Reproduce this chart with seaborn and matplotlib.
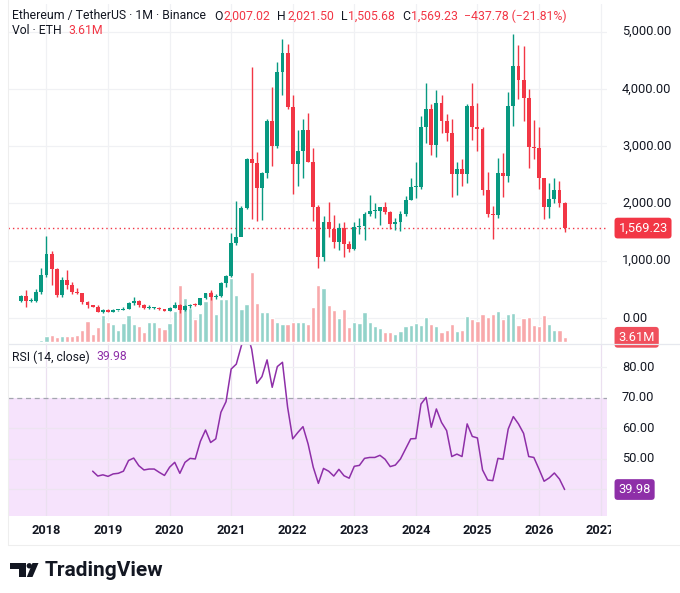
import matplotlib
matplotlib.use('Agg')
import matplotlib.pyplot as plt
import matplotlib.transforms as mtransforms
from matplotlib.patches import Polygon, Ellipse
import numpy as np
import pandas as pd
import seaborn as sns

# monthly ETH/USDT candles, Aug 2017 .. Jun 2026
months = pd.period_range('2017-08', '2026-06', freq='M')
opens = [301.1, 383.6, 301.5, 305.1, 446.8,
         756.1, 1118.3, 855.3, 396.6, 669.4, 577.7, 454.7, 433.9, 281.6, 232.1, 197.2, 113.3,
         133.4, 106.8, 136.0, 141.1, 160.6, 268.1, 290.3, 218.3, 172.2, 180.2, 182.5, 151.4,
         129.2, 179.2, 226.8, 133.6, 206.6, 231.0, 225.8, 345.4, 434.9, 359.8, 386.4, 616.4,
         736.4, 1312.5, 1417.1, 1918.0, 2773.0, 2707.0, 2274.0, 2536.0, 3433.0, 3001.0, 4288.0, 4631.0,
         3676.0, 2688.0, 2919.0, 3281.0, 2727.0, 1941.0, 1070.0, 1679.0, 1553.0, 1328.0, 1572.0, 1295.0,
         1196.0, 1585.0, 1605.0, 1821.0, 1868.0, 1873.0, 1934.0, 1856.0, 1645.0, 1671.0, 1814.0, 2052.0,
         2281.0, 2283.0, 3340.0, 3647.0, 3015.0, 3760.0, 3433.0, 3232.0, 2513.0, 2602.0, 2518.0, 3704.0,
         3332.0, 3300.0, 2237.0, 1822.0, 1794.0, 2528.0, 2486.0, 3697.0, 4391.0, 4145.0, 3848.0, 2990.0,
         2967.0, 2440.0, 1943.0, 2071.0, 2234.0, 2007.02]
highs = [393.0, 488.8, 349.7, 513.0, 880.0,
         1424.0, 1161.0, 880.0, 710.0, 838.0, 625.0, 515.0, 436.0, 304.0, 235.0, 223.0, 159.0,
         160.0, 165.0, 146.0, 185.0, 288.0, 362.0, 316.0, 239.0, 223.0, 198.0, 194.0, 153.0,
         185.0, 288.0, 253.0, 227.0, 245.0, 254.0, 348.0, 445.0, 488.0, 416.0, 622.0, 756.0,
         1476.0, 2041.0, 1947.0, 2798.0, 4372.0, 2891.0, 2551.0, 3466.0, 4028.0, 4460.0, 4868.0, 4778.0,
         3900.0, 3282.0, 3479.0, 3580.0, 2965.0, 1972.0, 1785.0, 2030.0, 1790.0, 1665.0, 1680.0, 1352.0,
         1678.0, 1743.0, 1857.0, 2141.0, 2009.0, 1929.0, 2029.0, 1870.0, 1751.0, 1866.0, 2135.0, 2445.0,
         2717.0, 3522.0, 4093.0, 3730.0, 3977.0, 3887.0, 3563.0, 3477.0, 2728.0, 2769.0, 3740.0, 4107.0,
         3744.0, 3340.0, 2550.0, 1957.0, 2788.0, 2880.0, 3940.0, 4956.0, 4770.0, 4755.0, 3990.0, 3447.0,
         3340.0, 2450.0, 2350.0, 2438.0, 2396.0, 2021.5]
lows = [278.0, 197.0, 284.5, 285.0, 420.0,
        715.0, 570.0, 368.0, 365.0, 500.0, 413.0, 423.0, 251.0, 167.0, 185.0, 102.0, 82.0,
        100.0, 101.0, 125.0, 137.0, 158.0, 230.0, 190.0, 162.0, 152.0, 156.0, 138.0, 117.0,
        126.0, 176.0, 86.0, 125.0, 176.0, 216.0, 221.0, 340.0, 308.0, 332.0, 373.0, 534.0,
        714.0, 1273.0, 1433.0, 1898.0, 1735.0, 1700.0, 1719.0, 2450.0, 2652.0, 2970.0, 3900.0, 3643.0,
        2159.0, 2300.0, 2450.0, 2717.0, 1700.0, 881.0, 1000.0, 1422.0, 1220.0, 1190.0, 1073.0, 1150.0,
        1190.0, 1461.0, 1368.0, 1785.0, 1740.0, 1626.0, 1815.0, 1550.0, 1531.0, 1521.0, 1781.0, 2052.0,
        2100.0, 2243.0, 3056.0, 2852.0, 2817.0, 3233.0, 3086.0, 2111.0, 2150.0, 2310.0, 2357.0, 3100.0,
        2920.0, 2150.0, 1754.0, 1385.0, 1750.0, 2111.0, 2373.0, 3354.0, 3815.0, 3435.0, 2623.0, 2776.0,
        2250.0, 1722.0, 1740.0, 2000.0, 1943.0, 1505.68]
closes = [383.6, 301.5, 305.1, 446.8, 756.1,
          1118.3, 855.3, 396.6, 669.4, 577.7, 454.7, 433.9, 281.6, 232.1, 197.2, 113.3, 133.4,
          106.8, 136.0, 141.1, 160.6, 268.1, 290.3, 218.3, 172.2, 180.2, 182.5, 151.4, 129.2,
          179.2, 226.8, 133.6, 206.6, 231.0, 225.8, 345.4, 434.9, 359.8, 386.4, 616.4, 736.4,
          1312.5, 1417.1, 1918.0, 2773.0, 2707.0, 2274.0, 2536.0, 3433.0, 3001.0, 4288.0, 4631.0, 3676.0,
          2688.0, 2919.0, 3281.0, 2727.0, 1941.0, 1070.0, 1679.0, 1553.0, 1328.0, 1572.0, 1295.0, 1196.0,
          1585.0, 1605.0, 1821.0, 1868.0, 1873.0, 1934.0, 1856.0, 1645.0, 1671.0, 1814.0, 2052.0, 2281.0,
          2283.0, 3340.0, 3647.0, 3015.0, 3760.0, 3433.0, 3232.0, 2513.0, 2602.0, 2518.0, 3704.0, 3332.0,
          3300.0, 2237.0, 1822.0, 1794.0, 2528.0, 2486.0, 3697.0, 4391.0, 4145.0, 3848.0, 2990.0, 2967.0,
          2440.0, 1943.0, 2071.0, 2234.0, 2007.0, 1569.23]
# volume, million ETH
volume = [0.5, 0.5, 0.7, 1.0, 1.7,
          4.8, 5.0, 3.6, 4.6, 4.8, 4.3, 5.3, 9.1, 15.6, 6.3, 10.8, 19.5,
          14.7, 13.2, 9.1, 13.7, 20.0, 13.0, 12.0, 7.2, 14.4, 14.4, 10.8, 9.6,
          13.7, 22.4, 41.6, 31.8, 25.0, 16.8, 21.4, 29.6, 36.8, 20.2, 31.5, 31.0,
          46.7, 34.0, 24.0, 27.7, 50.5, 28.6, 21.7, 21.9, 17.8, 14.7, 13.2, 13.5,
          14.7, 14.7, 14.7, 13.5, 25.5, 41.6, 39.5, 27.0, 23.1, 17.3, 23.8, 10.8,
          14.4, 13.7, 21.7, 14.9, 11.8, 10.1, 7.5, 7.7, 6.3, 8.4, 11.6, 12.3,
          13.7, 12.8, 18.0, 13.5, 11.8, 7.7, 9.1, 13.0, 8.2, 9.1, 18.8, 17.1,
          15.2, 20.7, 18.3, 20.7, 22.4, 16.8, 20.5, 21.4, 12.3, 17.8, 18.3, 12.5,
          11.6, 20.0, 13.2, 8.9, 8.7, 3.61]
# RSI(14, close), starting Oct 2018
rsi_start = pd.Period('2018-10', freq='M')
rsi = [46.0, 44.4, 44.8,
       44.3, 45.1, 45.3, 46.0, 49.5, 50.3, 47.8, 46.4, 46.7, 46.7, 45.6, 44.6,
       47.3, 48.9, 45.3, 48.9, 50.2, 50.0, 55.8, 59.5, 55.4, 56.6, 65.3, 68.8,
       79.5, 81.1, 87.2, 92.0, 86.0, 74.8, 77.0, 82.5, 73.5, 80.3, 81.7, 67.0,
       56.6, 58.7, 60.6, 54.9, 47.3, 42.0, 46.9, 46.0, 44.4, 46.6, 44.5, 43.7,
       47.6, 47.9, 50.2, 50.5, 50.5, 51.2, 49.9, 47.5, 48.0, 50.0, 53.3, 56.6,
       56.7, 68.0, 70.2, 60.4, 66.4, 62.0, 59.3, 50.8, 51.6, 50.8, 61.5, 57.4,
       56.9, 46.4, 43.1, 42.9, 50.2, 49.9, 59.8, 63.9, 61.5, 58.4, 50.8, 50.5,
       46.7, 42.7, 43.8, 45.4, 43.4, 39.98]
years = list(range(2018, 2028))

GREEN, RED = '#089981', '#f23645'
VUP, VDN = '#93d3ca', '#f8a9ab'
PURPLE, LAV = '#8e2fa8', '#f6e3fc'
TXT, GRID = '#131722', '#f0f1f4'

def month_index(p):
    return (p.year - 2018) * 12 + p.month - 1

m = np.array([month_index(p) for p in months])
o, h, l, c = map(np.array, (opens, highs, lows, closes))
up = c >= o
cols = np.where(up, GREEN, RED)
rsi_m = month_index(rsi_start) + np.arange(len(rsi))
year_m = [(y - 2018) * 12 for y in years]

sns.set_theme(style='white')
plt.rcParams['font.family'] = ['Roboto', 'DejaVu Sans']

W, H = 680, 593
fig = plt.figure(figsize=(W / 100, H / 100), dpi=100)
fig.patch.set_facecolor('white')

def box(lf, tp, rt, bt):
    return [lf / W, 1 - bt / H, (rt - lf) / W, (bt - tp) / H]

axv = fig.add_axes(box(8, 4, 607, 344))
ax = axv.twinx()
ax_r = fig.add_axes(box(8, 344, 607, 516))
# time strip is a bit wider so the last year label is cut like in the app
ax_t = fig.add_axes(box(8, 516, 611, 545))

XL = (-7.5, 109.26)
for a in (axv, ax, ax_r):
    a.set_xlim(*XL)
for a in (axv, ax, ax_r, ax_t):
    for s in a.spines.values():
        s.set_visible(False)
    a.set_xticks([])
    a.set_yticks([])
    a.patch.set_visible(False)
ax_t.set_xlim(XL[0], XL[0] + (XL[1] - XL[0]) * (611 - 8) / 599)
ax.set_ylim(-453.7, 5480)
axv.set_ylim(-1.23, 244.3)
ax_r.set_ylim(31.3, 87.7)

# grid
gridtr = mtransforms.blended_transform_factory(axv.transAxes, ax.transData)
for p in range(0, 6000, 1000):
    axv.plot([0, 1], [p, p], color=GRID, lw=0.9, transform=gridtr, zorder=0)
for ym in year_m:
    axv.axvline(ym, color=GRID, lw=0.9, zorder=0)
    ax_r.axvline(ym, color='#ebe0f0', lw=0.9, zorder=1)

# volume
vol_df = pd.DataFrame({'m': m, 'vol': volume, 'dir': np.where(up, 'up', 'down')})
sns.barplot(data=vol_df, x='m', y='vol', hue='dir', palette={'up': VUP, 'down': VDN},
            native_scale=True, dodge=False, width=0.82, saturation=1, errorbar=None,
            legend=False, ax=axv, zorder=2)
axv.set_xlim(*XL)
axv.set_ylim(-1.23, 244.3)
axv.set_xlabel('')
axv.set_ylabel('')
axv.set_xticks([])
axv.set_yticks([])

# candles
ax.vlines(m, l, h, colors=cols, lw=1.0, zorder=3)
ax.bar(m, np.maximum(np.abs(c - o), 14), bottom=np.minimum(o, c), width=0.76,
       color=cols, linewidth=0, zorder=4)
ax.axhline(closes[-1], color=RED, lw=1.0, ls=(0, (1, 2.2)), zorder=2)

# RSI
ax_r.axhspan(30, 70, color=LAV, lw=0, zorder=0)
for r in (80, 60, 50, 40):
    ax_r.axhline(r, color='#ede4f1' if r < 70 else GRID, lw=0.9, zorder=1)
ax_r.axhline(70, color='#a3a6af', lw=0.9, ls=(0, (4, 3)), zorder=2)
sns.lineplot(x=rsi_m, y=rsi, color=PURPLE, lw=1.1, ax=ax_r, zorder=3)
ax_r.set_xlim(*XL)
ax_r.set_ylim(31.3, 87.7)
ax_r.set_xticks([])
ax_r.set_yticks([])

# time axis
ttr = mtransforms.blended_transform_factory(ax_t.transData, ax_t.transAxes)
for ym, y in zip(year_m, years):
    ax_t.text(ym, 0.5, str(y), transform=ttr, ha='center', va='center', fontsize=9.2,
              fontweight='bold', color=TXT, clip_on=True)

# price scale
xa = (622 - 8) / 599
trm = mtransforms.blended_transform_factory(ax.transAxes, ax.transData)
for p in range(0, 6000, 1000):
    ax.text(xa, p, f'{p:,.2f}', transform=trm, ha='left', va='center', fontsize=9.3, color=TXT)
ax.text(xa - 0.006, closes[-1], f'{closes[-1]:,.2f}', transform=trm, ha='left', va='center',
        fontsize=9.3, color='white',
        bbox=dict(boxstyle='round,pad=0.3,rounding_size=0.25', fc=RED, ec='none'))
trv = mtransforms.blended_transform_factory(axv.transAxes, axv.transData)
axv.text(xa - 0.006, volume[-1], f'{volume[-1]:.2f}M', transform=trv, ha='left', va='center',
         fontsize=9.3, color='white',
         bbox=dict(boxstyle='round,pad=0.3,rounding_size=0.25', fc='#f04f5c', ec='none'))
trr = mtransforms.blended_transform_factory(ax_r.transAxes, ax_r.transData)
for r in (80, 70, 60, 50):
    ax_r.text(xa, r, f'{r:.2f}', transform=trr, ha='left', va='center', fontsize=9.3, color=TXT)
ax_r.text(xa - 0.006, rsi[-1], f'{rsi[-1]:.2f}', transform=trr, ha='left', va='center',
          fontsize=9.3, color='white',
          bbox=dict(boxstyle='round,pad=0.3,rounding_size=0.25', fc=PURPLE, ec='none'))

# separators / card edges
fig.add_artist(plt.Line2D([8 / W, 1], [1 - 344 / H] * 2, color='#e6e8ee', lw=0.9))
fig.add_artist(plt.Line2D([7.5 / W, 7.5 / W], [1 - 545 / H, 1], color='#eeeeee', lw=0.8))
fig.add_artist(plt.Line2D([7.5 / W, 1], [1 - 545 / H] * 2, color='#eeeeee', lw=0.8))

# legend rows
renderer = fig.canvas.get_renderer()

def text_row(x, y, parts, size):
    for s, col, gap in parts:
        t = fig.text(x / W, 1 - y / H, s, color=col, fontsize=size, ha='left', va='center')
        x += t.get_window_extent(renderer).width + gap

text_row(12, 16, [('Ethereum / TetherUS · 1M · Binance', TXT, 8), ('O', TXT, 1),
                  ('2,007.02', RED, 7), ('H', TXT, 1), ('2,021.50', RED, 7),
                  ('L', TXT, 1), ('1,505.68', RED, 7), ('C', TXT, 1), ('1,569.23', RED, 6),
                  ('\u2212437.78 (\u221221.81%)', RED, 0)], 8.8)
text_row(12, 31, [('Vol · ETH', TXT, 7), ('3.61M', RED, 0)], 8.8)
text_row(12, 357, [('RSI (14, close)', TXT, 7), ('39.98', PURPLE, 0)], 8.8)

# TradingView logo
def P(x, y):
    return (x / W, 1 - y / H)

fig.add_artist(Polygon([P(9.5, 563), P(26, 563), P(26, 577), P(18.5, 577), P(18.5, 568.5),
                        P(9.5, 568.5)], closed=True, fc=TXT, ec='none', transform=fig.transFigure))
fig.add_artist(Ellipse(P(29.3, 565.8), 5.4 / W, 5.4 / H, fc=TXT, ec='none', transform=fig.transFigure))
fig.add_artist(Polygon([P(32.5, 563), P(38.5, 563), P(32.5, 577), P(26.8, 577)], closed=True,
                       fc=TXT, ec='none', transform=fig.transFigure))
fig.text(45 / W, 1 - 571 / H, 'TradingView', fontsize=15, fontweight='bold', color=TXT,
         ha='left', va='center')

fig.savefig('out.png', dpi=100, facecolor='white')
